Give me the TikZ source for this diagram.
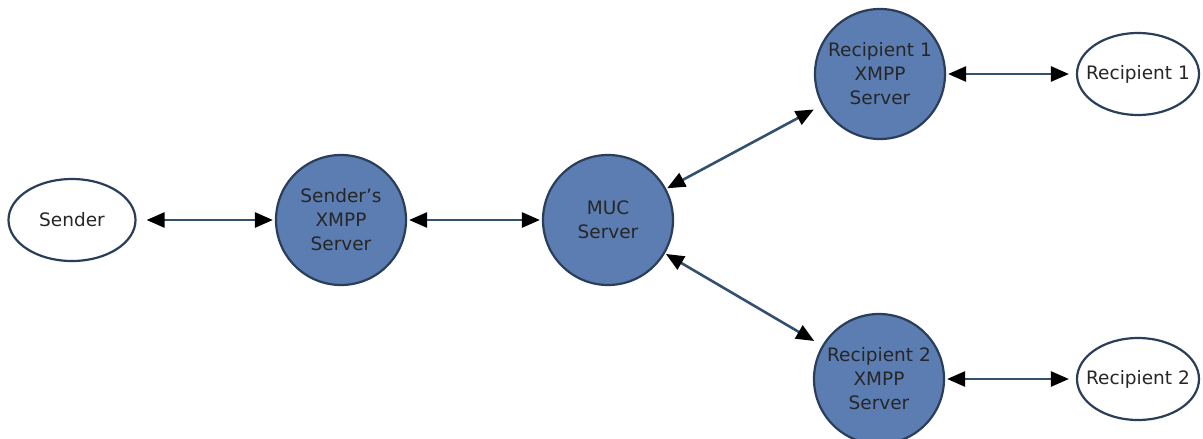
\documentclass[tikz,border=0pt]{standalone}
\usepackage{fontspec}
\setmainfont{DejaVu Sans}
\usetikzlibrary{shapes.geometric,arrows.meta}
\definecolor{srvfill}{HTML}{5B7DB1}
\definecolor{edge}{HTML}{2A3E5A}
\definecolor{conn}{HTML}{34506F}
\tikzset{
  server/.style={circle, draw=edge, fill=srvfill, line width=2.2pt, minimum size=130pt, inner sep=0pt, align=center, text=black!85, font=\fontsize{18.5}{24}\selectfont},
  client/.style={ellipse, draw=edge, fill=white, line width=2.2pt, inner ysep=0pt, inner xsep=-12pt, text=black!85, font=\fontsize{18.5}{24}\selectfont},
  link/.style={draw=conn, line width=2.6pt, {Triangle[length=18pt,width=15pt,fill=black,color=black]}-{Triangle[length=18pt,width=15pt,fill=black,color=black]}}
}
\begin{document}
\begin{tikzpicture}[x=1pt,y=-1pt]
\useasboundingbox (0,0) rectangle (1203,439);
\node[client, minimum width=127pt, minimum height=82pt] (sender) at (72,220) {Sender};
\node[server] (ss) at (341,220) {Sender's\\XMPP\\Server};
\node[server] (muc) at (608,220) {MUC\\Server};
\node[server] (r1s) at (880,74) {Recipient 1\\XMPP\\Server};
\node[server] (r2s) at (879,379) {Recipient 2\\XMPP\\Server};
\node[client, minimum width=122pt, minimum height=82pt] (r1) at (1138,74) {Recipient 1};
\node[client, minimum width=122pt, minimum height=82pt] (r2) at (1138,379) {Recipient 2};
\draw[link, shorten <=10pt, shorten >=2pt] (sender) -- (ss);
\draw[link, shorten <=2pt, shorten >=2pt] (ss) -- (muc);
\draw[link, shorten <=1pt, shorten >=9pt] (muc) -- (r1s);
\draw[link, shorten <=1pt, shorten >=9pt] (muc) -- (r2s);
\draw[link, shorten <=2pt, shorten >=7pt] (r1s) -- (r1);
\draw[link, shorten <=2pt, shorten >=7pt] (r2s) -- (r2);
\end{tikzpicture}
\end{document}
